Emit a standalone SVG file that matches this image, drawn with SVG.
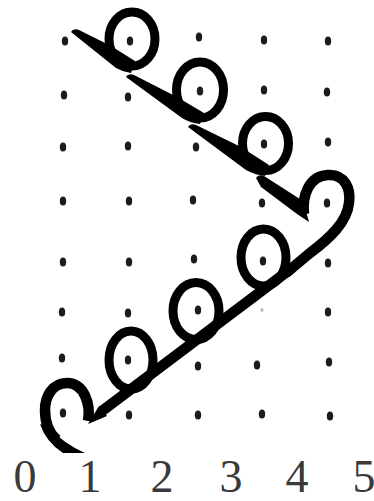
<svg xmlns="http://www.w3.org/2000/svg" width="374" height="501" viewBox="0 0 374 501">
<style>
.dot{fill:#1c1c1c}
.faint{fill:#bbbbbb}
.loop{fill:none;stroke:#000;stroke-width:9}
.ink{fill:#000}
.stk{fill:none;stroke:#000;stroke-width:10.5;stroke-linecap:butt;stroke-linejoin:round}
.lbl{font-family:"Liberation Serif","Times New Roman",serif;font-size:46px;fill:#3a3a3a;text-anchor:middle}
</style>
<rect width="374" height="501" fill="#fff"/>
<g id="dots">
<ellipse class="dot" cx="65" cy="41" rx="3.2" ry="4.6"/>
<ellipse class="dot" cx="130" cy="41" rx="3.2" ry="4.6"/>
<ellipse class="dot" cx="199" cy="37" rx="3.2" ry="4.6"/>
<ellipse class="dot" cx="264" cy="40" rx="3.2" ry="4.6"/>
<ellipse class="dot" cx="328" cy="41" rx="3.2" ry="4.6"/>
<ellipse class="dot" cx="64" cy="95" rx="3.2" ry="4.6"/>
<ellipse class="dot" cx="128" cy="97" rx="3.2" ry="4.6"/>
<ellipse class="dot" cx="200" cy="91" rx="3.2" ry="4.6"/>
<ellipse class="dot" cx="264" cy="90" rx="3.2" ry="4.6"/>
<ellipse class="dot" cx="327" cy="92" rx="3.2" ry="4.6"/>
<ellipse class="dot" cx="63" cy="147" rx="3.2" ry="4.6"/>
<ellipse class="dot" cx="128" cy="146" rx="3.2" ry="4.6"/>
<ellipse class="dot" cx="196" cy="147" rx="3.2" ry="4.6"/>
<ellipse class="dot" cx="264" cy="144" rx="3.2" ry="4.6"/>
<ellipse class="dot" cx="328" cy="142" rx="3.2" ry="4.6"/>
<ellipse class="dot" cx="63" cy="201" rx="3.2" ry="4.6"/>
<ellipse class="dot" cx="129" cy="201" rx="3.2" ry="4.6"/>
<ellipse class="dot" cx="193" cy="200" rx="3.2" ry="4.6"/>
<ellipse class="dot" cx="262" cy="203" rx="3.2" ry="4.6"/>
<ellipse class="dot" cx="327" cy="203" rx="3.2" ry="4.6"/>
<ellipse class="dot" cx="63" cy="262" rx="3.2" ry="4.6"/>
<ellipse class="dot" cx="129" cy="262" rx="3.2" ry="4.6"/>
<ellipse class="dot" cx="194" cy="259" rx="3.2" ry="4.6"/>
<ellipse class="dot" cx="263" cy="261" rx="3.2" ry="4.6"/>
<ellipse class="dot" cx="328" cy="263" rx="3.2" ry="4.6"/>
<ellipse class="dot" cx="62" cy="312" rx="3.2" ry="4.6"/>
<ellipse class="dot" cx="128" cy="313" rx="3.2" ry="4.6"/>
<ellipse class="dot" cx="198" cy="310" rx="3.2" ry="4.6"/>
<ellipse class="faint" cx="262" cy="310" rx="1.5" ry="2"/>
<ellipse class="dot" cx="328" cy="312" rx="3.2" ry="4.6"/>
<ellipse class="dot" cx="62" cy="358" rx="3.2" ry="4.6"/>
<ellipse class="dot" cx="128" cy="360" rx="3.2" ry="4.6"/>
<ellipse class="dot" cx="198" cy="366" rx="3.2" ry="4.6"/>
<ellipse class="dot" cx="257" cy="365" rx="3.2" ry="4.6"/>
<ellipse class="dot" cx="329" cy="362" rx="3.2" ry="4.6"/>
<ellipse class="dot" cx="63" cy="413" rx="3.2" ry="4.6"/>
<ellipse class="dot" cx="129" cy="415" rx="3.2" ry="4.6"/>
<ellipse class="dot" cx="198" cy="415" rx="3.2" ry="4.6"/>
<ellipse class="dot" cx="262" cy="414" rx="3.2" ry="4.6"/>
<ellipse class="dot" cx="330" cy="416" rx="3.2" ry="4.6"/>
</g>
<g id="upper-chain">
<path class="ink" d="M71,32 Q73,28 79,30 L111,46 L135,61 L131,73 Q123,72 116,68 Z"/>
<ellipse class="loop" cx="132" cy="39" rx="23" ry="27"/>
<path class="ink" d="M126,77 Q128,73 134,75 L177,97 L204,113 L200,124 Q190,123 182,118 Z"/>
<ellipse class="loop" cx="200" cy="90" rx="23.5" ry="28"/>
<path class="ink" d="M188,127 Q190,123 196,125 L241,147 L269,165 L265,176 Q255,175 246,170 Z"/>
<ellipse class="loop" cx="265.5" cy="143.5" rx="23" ry="27"/>
<path class="ink" d="M256,178 Q258,174 264,176 L303,201 L309,222 L297,214 L261,187 Z"/>
</g>
<g id="lower-chain">
<path class="stk" d="M304,214 C302,195 309,176 328,175 C345,174 351,189 349,203 C347,222 330,238 310,253 L286,273"/>
<ellipse class="loop" cx="263.5" cy="257.5" rx="22.5" ry="28.5"/>
<path class="stk" d="M292,268 L102,411"/>
<ellipse class="loop" cx="196" cy="311" rx="23" ry="28.5"/>
<ellipse class="loop" cx="131" cy="360" rx="22" ry="29"/>
<path class="ink" d="M99,406 L107,416 L88,424 Z"/>
<path class="stk" d="M88,421 C91,404 84,383 67,383 C52,383 45,397 45,410 C45,424 50,434 57,440"/>
<path class="ink" d="M40,424 L50,428 Q64,444 85,453 L63,453 Q46,442 40,424 Z"/>
</g>
<g id="labels">
<text class="lbl" x="25" y="492">0</text>
<text class="lbl" x="90" y="492">1</text>
<text class="lbl" x="162" y="492">2</text>
<text class="lbl" x="231" y="492">3</text>
<text class="lbl" x="297" y="492">4</text>
<text class="lbl" x="364" y="492">5</text>
</g>
</svg>
